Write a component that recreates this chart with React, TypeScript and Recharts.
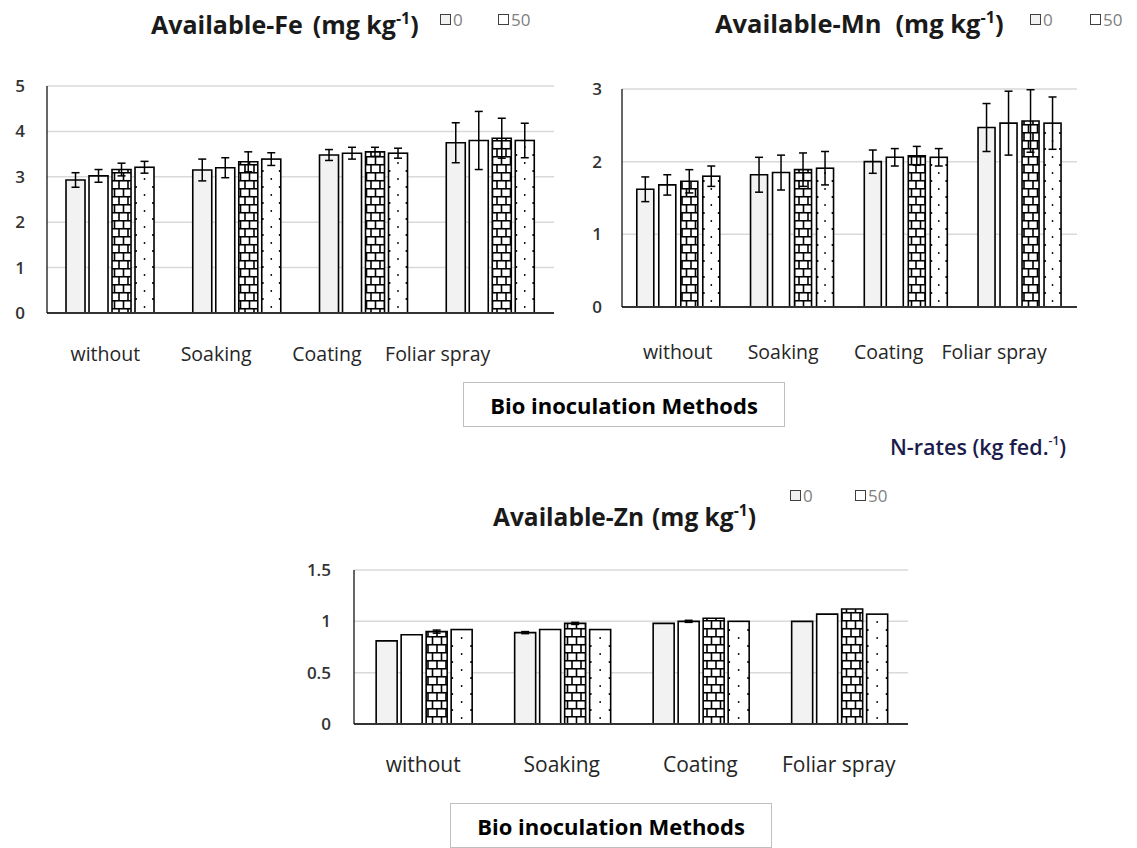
import React from "react";
import { BarChart, Bar, XAxis, YAxis, CartesianGrid, ErrorBar } from "recharts";

const methods = ["without", "Soaking", "Coating", "Foliar spray"];
const legendRates = ["0", "50"];

// Available-Fe (mg kg-1), one array per N-rate series
const feN0 = [2.93, 3.15, 3.48, 3.75];
const feN50 = [3.02, 3.2, 3.52, 3.8];
const feN100 = [3.16, 3.33, 3.55, 3.85];
const feN150 = [3.21, 3.39, 3.52, 3.8];
const feErr0 = [0.16, 0.24, 0.12, 0.44];
const feErr50 = [0.14, 0.22, 0.13, 0.64];
const feErr100 = [0.14, 0.22, 0.1, 0.44];
const feErr150 = [0.13, 0.14, 0.11, 0.38];
const feTicks = [0, 1, 2, 3, 4, 5];

// Available-Mn
const mnN0 = [1.62, 1.82, 2.0, 2.47];
const mnN50 = [1.68, 1.85, 2.06, 2.53];
const mnN100 = [1.73, 1.89, 2.08, 2.56];
const mnN150 = [1.8, 1.91, 2.06, 2.53];
const mnErr0 = [0.17, 0.24, 0.16, 0.33];
const mnErr50 = [0.14, 0.24, 0.12, 0.44];
const mnErr100 = [0.16, 0.23, 0.13, 0.43];
const mnErr150 = [0.14, 0.23, 0.12, 0.36];
const mnTicks = [0, 1, 2, 3];

// Available-Zn
const znN0 = [0.81, 0.89, 0.98, 1.0];
const znN50 = [0.87, 0.92, 1.0, 1.07];
const znN100 = [0.9, 0.98, 1.03, 1.12];
const znN150 = [0.92, 0.92, 1.0, 1.07];
const znErr0 = [0, 0.01, 0, 0];
const znErr50 = [0, 0, 0.01, 0];
const znErr100 = [0.015, 0.01, 0, 0];
const znErr150 = [0, 0, 0, 0];
const znTicks = [0, 0.5, 1, 1.5];

function toRows(vals: number[][], errs: number[][]) {
  return methods.map((m, i) => ({
    method: m,
    v0: vals[0][i],
    v1: vals[1][i],
    v2: vals[2][i],
    v3: vals[3][i],
    e0: errs[0][i],
    e1: errs[1][i],
    e2: errs[2][i],
    e3: errs[3][i],
  }));
}

const feData = toRows([feN0, feN50, feN100, feN150], [feErr0, feErr50, feErr100, feErr150]);
const mnData = toRows([mnN0, mnN50, mnN100, mnN150], [mnErr0, mnErr50, mnErr100, mnErr150]);
const znData = toRows([znN0, znN50, znN100, znN150], [znErr0, znErr50, znErr100, znErr150]);

const FONT = "'Open Sans', 'Noto Sans', sans-serif";

// white bar with a column of dots (4th series)
function DotBar(props: any) {
  const { x, y, width, height } = props;
  if (!height || height <= 0) return null;
  const dots: React.ReactNode[] = [];
  let k = 0;
  for (let yy = y + height - 6; yy > y + 4; yy -= 16) {
    dots.push(<circle key={"c" + k} cx={x + width / 2} cy={yy} r={0.9} fill="#000" />);
    if (yy - 8 > y + 4) {
      dots.push(<circle key={"l" + k} cx={x + 1} cy={yy - 8} r={1.1} fill="#000" />);
      dots.push(<circle key={"r" + k} cx={x + width - 1} cy={yy - 8} r={1.1} fill="#000" />);
    }
    k++;
  }
  return (
    <g>
      <rect x={x} y={y} width={width} height={height} fill="#fff" stroke="#000" strokeWidth={1.6} />
      {dots}
    </g>
  );
}

// category label; the source figure's labels sit a little left of their bar groups,
// drifting more towards the right, so the tick x is squeezed toward the y axis
function makeTick(plotLeft: number, squeeze: number, fontSize: number) {
  return function CatTick(props: any) {
    const { x, y, payload } = props;
    const tx = plotLeft + (x - plotLeft) * squeeze + (squeeze < 1 ? 3 : 0);
    return (
      <text
        x={tx}
        y={y}
        dy="0.71em"
        textAnchor="middle"
        fontFamily={FONT}
        fontSize={fontSize}
        fill="#262626"
      >
        {payload.value}
      </text>
    );
  };
}

interface PanelProps {
  data: any[];
  left: number;
  top: number;
  width: number;
  height: number;
  margin: { top: number; right: number; bottom: number; left: number };
  yWidth: number;
  ticks: number[];
  xTickMargin: number;
  yTickMargin: number;
  gap: string;
  barGap: number;
  squeeze: number;
  labelSize: number;
}

function Panel(p: PanelProps) {
  const max = p.ticks[p.ticks.length - 1];
  const errProps = { width: 4, stroke: "#000", strokeWidth: 1.5 };
  const plotLeft = p.margin.left + p.yWidth;
  return (
    <div style={{ position: "absolute", left: p.left, top: p.top }}>
      <BarChart
        width={p.width}
        height={p.height}
        data={p.data}
        margin={p.margin}
        barCategoryGap={p.gap}
        barGap={p.barGap}
      >
        <CartesianGrid vertical={false} stroke="#d9d9d9" strokeWidth={1.5} />
        <XAxis
          dataKey="method"
          tickLine={false}
          tickSize={0}
          tickMargin={p.xTickMargin}
          axisLine={{ stroke: "#333", strokeWidth: 2 }}
          tick={makeTick(plotLeft, p.squeeze, p.labelSize)}
          interval={0}
          height={60}
        />
        <YAxis
          domain={[0, max]}
          ticks={p.ticks}
          width={p.yWidth}
          tickLine={false}
          tickSize={0}
          tickMargin={p.yTickMargin}
          axisLine={{ stroke: "#000", strokeWidth: 1.2 }}
          tick={{ fontFamily: FONT, fontSize: 17, fontWeight: 600, fill: "#333" }}
        />
        <Bar dataKey="v0" fill="#f2f2f2" stroke="#000" strokeWidth={1.6} isAnimationActive={false}>
          <ErrorBar dataKey="e0" {...errProps} />
        </Bar>
        <Bar dataKey="v1" fill="#fff" stroke="#000" strokeWidth={1.6} isAnimationActive={false}>
          <ErrorBar dataKey="e1" {...errProps} />
        </Bar>
        <Bar dataKey="v2" fill="url(#brick)" stroke="#000" strokeWidth={1.6} isAnimationActive={false}>
          <ErrorBar dataKey="e2" {...errProps} />
        </Bar>
        <Bar dataKey="v3" fill="#fff" shape={DotBar} isAnimationActive={false}>
          <ErrorBar dataKey="e3" {...errProps} />
        </Bar>
      </BarChart>
    </div>
  );
}

function Title({
  left,
  top,
  name,
  size,
  gap,
}: {
  left: number;
  top: number;
  name: string;
  size: number;
  gap: number;
}) {
  return (
    <div
      style={{
        position: "absolute",
        left,
        top,
        fontFamily: FONT,
        fontWeight: 700,
        fontSize: size,
        lineHeight: 1,
        color: "#1a1a1a",
        whiteSpace: "nowrap",
      }}
    >
      {name}
      <span style={{ display: "inline-block", width: gap }} />
      (mg kg<sup style={{ fontSize: size * 0.64, verticalAlign: size * 0.4, lineHeight: 0 }}>-1</sup>)
    </div>
  );
}

function LegendRow({ left, top, spacing }: { left: number; top: number; spacing: number }) {
  const fills = ["#f2f2f2", "#fff"];
  return (
    <>
      {legendRates.map((r, i) => (
        <div
          key={r}
          style={{
            position: "absolute",
            left: left + i * spacing,
            top,
            display: "flex",
            alignItems: "center",
            fontFamily: FONT,
            fontSize: 17,
            color: "#7f7f7f",
            lineHeight: 1,
          }}
        >
          <span
            style={{
              display: "inline-block",
              width: 9,
              height: 9,
              border: "1.5px solid #404040",
              background: fills[i],
              marginRight: 2,
            }}
          />
          {r}
        </div>
      ))}
    </>
  );
}

function MethodsBox({ left, top }: { left: number; top: number }) {
  return (
    <div
      style={{
        position: "absolute",
        left,
        top,
        width: 322,
        height: 45,
        boxSizing: "border-box",
        border: "1px solid #bfbfbf",
        background: "#fff",
        display: "flex",
        alignItems: "center",
        justifyContent: "center",
        fontFamily: FONT,
        fontWeight: 700,
        fontSize: 22,
        color: "#000",
        whiteSpace: "nowrap",
      }}
    >
      Bio inoculation Methods
    </div>
  );
}

export default function App() {
  return (
    <div
      style={{
        position: "relative",
        width: 1137,
        height: 848,
        margin: "-8px 0 0 -8px",
        background: "#fff",
        overflow: "hidden",
      }}
    >
      <svg width={0} height={0} style={{ position: "absolute" }}>
        <defs>
          <pattern id="brick" width={9} height={16} patternUnits="userSpaceOnUse">
            <rect width={9} height={16} fill="#fff" />
            <line x1={0} y1={0.75} x2={9} y2={0.75} stroke="#000" strokeWidth={1.6} />
            <line x1={0} y1={8.75} x2={9} y2={8.75} stroke="#000" strokeWidth={1.6} />
            <line x1={6.5} y1={0} x2={6.5} y2={8.75} stroke="#000" strokeWidth={1.6} />
            <line x1={2} y1={8.75} x2={2} y2={16} stroke="#000" strokeWidth={1.6} />
          </pattern>
        </defs>
      </svg>

      <Title left={151} top={12} name="Available-Fe" size={25} gap={10} />
      <LegendRow left={440} top={11} spacing={58} />
      <Panel
        data={feData}
        left={0}
        top={60}
        width={570}
        height={325}
        margin={{ top: 26, right: 16, bottom: 12, left: 17 }}
        yWidth={30}
        ticks={feTicks}
        xTickMargin={34}
        yTickMargin={22}
        gap="15%"
        barGap={4}
        squeeze={0.874}
        labelSize={19.5}
      />

      <Title left={715} top={11} name="Available-Mn" size={25.5} gap={14} />
      <LegendRow left={1030} top={11} spacing={60} />
      <Panel
        data={mnData}
        left={590}
        top={60}
        width={497}
        height={319}
        margin={{ top: 29, right: 10, bottom: 12, left: 2 }}
        yWidth={30}
        ticks={mnTicks}
        xTickMargin={38}
        yTickMargin={20}
        gap="13%"
        barGap={5}
        squeeze={0.927}
        labelSize={19.5}
      />

      <MethodsBox left={463} top={382} />

      <div
        style={{
          position: "absolute",
          left: 890,
          top: 436,
          fontFamily: FONT,
          fontWeight: 600,
          fontSize: 21.5,
          color: "#1c1c4c",
          whiteSpace: "nowrap",
          lineHeight: 1,
        }}
      >
        N-rates (kg fed.<sup style={{ fontSize: 12, verticalAlign: 10, lineHeight: 0 }}>-1</sup>)
      </div>

      <Title left={493} top={505} name="Available-Zn" size={24.5} gap={8} />
      <LegendRow left={790} top={487} spacing={65} />
      <Panel
        data={znData}
        left={300}
        top={540}
        width={620}
        height={256}
        margin={{ top: 30, right: 12, bottom: 12, left: 14 }}
        yWidth={40}
        ticks={znTicks}
        xTickMargin={33}
        yTickMargin={23}
        gap="16%"
        barGap={4}
        squeeze={1}
        labelSize={21}
      />

      <MethodsBox left={450} top={803} />
    </div>
  );
}
